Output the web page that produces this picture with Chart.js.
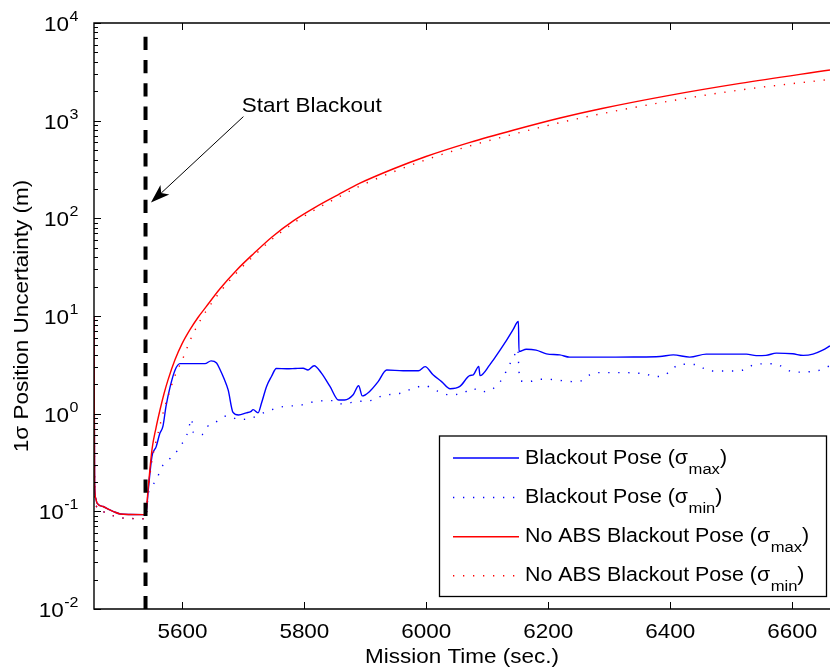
<!DOCTYPE html>
<html>
<head>
<meta charset="utf-8">
<script src="https://cdn.jsdelivr.net/npm/chart.js@4.4.1/dist/chart.umd.min.js"></script>
<style>
  html, body { margin: 0; padding: 0; background: #fff; overflow: hidden; }
  #wrap { position: relative; width: 830px; height: 671px; }
</style>
</head>
<body>
<div id="wrap"><canvas id="c" width="830" height="671"></canvas></div>
<script>
// ---- data: mission time (s) and 1-sigma position uncertainty (m) ----
// Filter estimate before the blackout (identical for both runs)
const preTime  = [5455, 5456, 5458, 5460, 5470, 5480, 5487, 5498, 5515, 5536, 5540];
const preMax   = [10, 0.2, 0.135, 0.121, 0.112, 0.104, 0.0995, 0.094, 0.0928, 0.0925, 0.0925];
const preMin   = [10, 0.17, 0.118, 0.108, 0.0995, 0.093, 0.09, 0.086, 0.0845, 0.084, 0.084];

// Blackout pose, sigma max
const blueMaxTime = [5544, 5550, 5557, 5563, 5568, 5573, 5580, 5588, 5596, 5610, 5625, 5637, 5647, 5656, 5662, 5668, 5675, 5683, 5692, 5705, 5712, 5716, 5724, 5730, 5738, 5746, 5754, 5771, 5785, 5798, 5806, 5816, 5828, 5842, 5856, 5866, 5880, 5889, 5895, 5907, 5921, 5935, 5962, 5987, 5998, 6011, 6025, 6039, 6055, 6071, 6077, 6086, 6088, 6104, 6110, 6132, 6142, 6151, 6152, 6164, 6180, 6197, 6219, 6235, 6306, 6340, 6383, 6405, 6432, 6459, 6525, 6541, 6557, 6574, 6601, 6618, 6634, 6650, 6662];
const blueMaxVal  = [0.166, 0.364, 0.46, 0.63, 0.74, 1.18, 1.9, 2.8, 3.25, 3.25, 3.25, 3.25, 3.47, 3.3, 2.8, 2.3, 1.75, 1.03, 0.97, 1.02, 1.05, 1.1, 1.02, 1.3, 1.9, 2.4, 2.9, 2.88, 2.9, 2.92, 2.8, 3.1, 2.6, 1.9, 1.38, 1.38, 1.56, 1.93, 1.52, 1.69, 2.13, 2.8, 2.75, 2.75, 3.03, 2.5, 2.13, 1.8, 1.9, 2.45, 2.5, 3.05, 2.45, 3.16, 3.56, 5.7, 7.2, 8.77, 4.32, 4.57, 4.47, 4.1, 4.0, 3.79, 3.79, 3.8, 3.85, 4.0, 3.79, 4.07, 4.07, 3.93, 3.95, 4.17, 4.1, 3.95, 4.07, 4.47, 4.94];

// Blackout pose, sigma min
const blueMinTime = [5544, 5550, 5559, 5564, 5580, 5592, 5600, 5607, 5611, 5615, 5618, 5632, 5640, 5651, 5673, 5694, 5713, 5738, 5765, 5793, 5817, 5847, 5861, 5886, 5913, 5927, 5957, 5984, 5999, 6011, 6039, 6060, 6076, 6088, 6101, 6115, 6125, 6132, 6139, 6144, 6150, 6152, 6154, 6169, 6183, 6200, 6216, 6240, 6254, 6268, 6279, 6328, 6345, 6361, 6372, 6386, 6399, 6416, 6446, 6459, 6476, 6509, 6525, 6539, 6572, 6585, 6599, 6615, 6631, 6646, 6662];
const blueMinVal  = [0.15, 0.18, 0.22, 0.27, 0.35, 0.42, 0.5, 0.6, 0.74, 0.89, 0.64, 0.61, 0.73, 0.79, 0.95, 0.87, 0.9, 1.05, 1.18, 1.22, 1.33, 1.36, 1.26, 1.33, 1.38, 1.52, 1.62, 1.87, 1.93, 1.78, 1.56, 1.62, 1.82, 1.68, 1.7, 1.93, 2.3, 2.8, 3.41, 3.9, 4.6, 2.7, 2.17, 2.13, 2.25, 2.25, 2.2, 2.13, 2.17, 2.5, 2.63, 2.63, 2.6, 2.55, 2.4, 2.4, 2.7, 3.21, 3.16, 2.8, 2.73, 2.73, 2.88, 3.21, 3.25, 2.99, 2.7, 2.66, 2.7, 2.8, 3.1];

// No ABS blackout pose (sigma max and sigma min share the time stamps)
const redTime   = [5543.6, 5550.1, 5556.7, 5563.2, 5569.8, 5576.4, 5587.8, 5599.3, 5612.4, 5625.5, 5638.7, 5661.6, 5689.5, 5717.4, 5746.9, 5783, 5819, 5855.1, 5891.2, 5945.3, 5999.4, 6071.6, 6143.7, 6219.2, 6288.1, 6396.3, 6514.4, 6662];
const redMaxVal = [0.166, 0.43, 0.716, 1.09, 1.6, 2.22, 3.56, 5.18, 7.24, 9.65, 12.4, 19.0, 29.8, 43.9, 64.5, 95.2, 131, 174, 229, 320, 430, 600, 803, 1066, 1333, 1806, 2409, 3304];
const redMinVal = [0.16, 0.33, 0.52, 0.76, 1.1, 1.5, 2.45, 3.5, 5.6, 8.2, 11.2, 17.6, 28, 41.5, 61, 90, 124, 164, 214, 298, 398, 552, 730, 955, 1180, 1575, 2060, 2650];

// axes
const xTicks = [5600, 5800, 6000, 6200, 6400, 6600];
const yTickExps = [-2, -1, 0, 1, 2, 3, 4];
const blackoutTime = 5539.5;

// legend and annotation text
const legendNames = ['Blackout Pose', 'Blackout Pose', 'No ABS Blackout Pose', 'No ABS Blackout Pose'];
const legendSubs  = ['max', 'min', 'max', 'min'];
const xTitle = 'Mission Time (sec.)';
const yTitle = '1\u03C3 Position Uncertainty (m)';
const noteText = 'Start Blackout';
const noteTail = { x: 5700, y: 1100 };
const noteTip  = { x: 5548.4, y: 145 };
const noteTextAt = { x: 5697.5, y: 1236 };

// ---- helpers ----
const FONT = "'Liberation Sans', Arial, Helvetica, sans-serif";
const SX = 1.07; // horizontal text stretch

function pts(t, v) { return t.map((ti, i) => ({ x: ti, y: v[i] })); }

function textW(ctx, s, size) {
  ctx.save(); ctx.font = size + 'px ' + FONT;
  const w = ctx.measureText(s).width * SX; ctx.restore(); return w;
}
function drawText(ctx, s, x, y, size, align) {
  ctx.save();
  ctx.font = size + 'px ' + FONT;
  ctx.fillStyle = '#000';
  ctx.textBaseline = 'alphabetic';
  const w = ctx.measureText(s).width * SX;
  let x0 = x;
  if (align === 'center') x0 = x - w / 2;
  else if (align === 'right') x0 = x - w;
  ctx.translate(x0, y); ctx.scale(SX, 1);
  ctx.textAlign = 'left';
  ctx.fillText(s, 0, 0);
  ctx.restore();
  return w;
}

const BLUE = '#0000ff', RED = '#ff0000';
const DOT = [1.3, 8.7];

const datasets = [
  { label: 'Blackout Pose (\u03C3max)', data: pts(preTime.concat(blueMaxTime), preMax.concat(blueMaxVal)),
    borderColor: BLUE, borderWidth: 1.4, order: 4 },
  { label: 'Blackout Pose (\u03C3min)', data: pts(preTime.concat(blueMinTime), preMin.concat(blueMinVal)),
    borderColor: BLUE, borderWidth: 1.4, borderDash: DOT, order: 3 },
  { label: 'No ABS Blackout Pose (\u03C3max)', data: pts(preTime.concat(redTime), preMax.concat(redMaxVal)),
    borderColor: RED, borderWidth: 1.4, order: 1 },
  { label: 'No ABS Blackout Pose (\u03C3min)', data: pts(preTime.concat(redTime), preMin.concat(redMinVal)),
    borderColor: RED, borderWidth: 1.4, borderDash: DOT, order: 2 }
];
datasets.forEach(d => {
  d.pointRadius = 0; d.fill = false; d.cubicInterpolationMode = 'monotone';
  d.borderJoinStyle = 'round'; d.borderCapStyle = 'butt';
});

// blackout marker and annotation, drawn over the curves
const markerPlugin = {
  id: 'blackoutMarker',
  afterDatasetsDraw(chart) {
    const { ctx, chartArea: a, scales: { x, y } } = chart;
    ctx.save();
    // dashed vertical line
    const bx = x.getPixelForValue(blackoutTime);
    ctx.strokeStyle = '#000'; ctx.lineWidth = 4; ctx.lineCap = 'butt';
    ctx.setLineDash([13.3, 10]);
    ctx.beginPath(); ctx.moveTo(bx, a.top + 13.7); ctx.lineTo(bx, a.bottom); ctx.stroke();
    ctx.setLineDash([]);
    // arrow
    const tx = x.getPixelForValue(noteTail.x), ty = y.getPixelForValue(noteTail.y);
    const px = x.getPixelForValue(noteTip.x), py = y.getPixelForValue(noteTip.y);
    const dx = px - tx, dy = py - ty, len = Math.hypot(dx, dy);
    const ux = dx / len, uy = dy / len, nx = -uy, ny = ux;
    const headL = 19, headW = 6.5, notch = 14;
    ctx.lineWidth = 1; ctx.strokeStyle = '#000'; ctx.fillStyle = '#000';
    ctx.beginPath(); ctx.moveTo(tx, ty); ctx.lineTo(px - ux * notch, py - uy * notch); ctx.stroke();
    ctx.beginPath();
    ctx.moveTo(px, py);
    ctx.lineTo(px - ux * headL + nx * headW, py - uy * headL + ny * headW);
    ctx.lineTo(px - ux * notch, py - uy * notch);
    ctx.lineTo(px - ux * headL - nx * headW, py - uy * headL - ny * headW);
    ctx.closePath(); ctx.fill();
    drawText(ctx, noteText, x.getPixelForValue(noteTextAt.x), y.getPixelForValue(noteTextAt.y), 21, 'left');
    ctx.restore();
  }
};

// box axes with inward ticks, tick labels, titles and legend
const axesPlugin = {
  id: 'boxAxes',
  afterDraw(chart) {
    const { ctx, chartArea: a, scales: { x, y } } = chart;
    ctx.save();
    ctx.strokeStyle = '#000'; ctx.lineWidth = 1.4; ctx.lineCap = 'square';
    ctx.beginPath();
    ctx.moveTo(a.right + 2, a.top); ctx.lineTo(a.left, a.top);
    ctx.lineTo(a.left, a.bottom); ctx.lineTo(a.right + 2, a.bottom);
    ctx.stroke();
    ctx.lineWidth = 1; ctx.lineCap = 'butt';
    // x ticks (bottom and top)
    ctx.beginPath();
    xTicks.forEach(v => {
      const px = Math.round(x.getPixelForValue(v)) + 0.5;
      ctx.moveTo(px, a.bottom); ctx.lineTo(px, a.bottom - 7);
      ctx.moveTo(px, a.top); ctx.lineTo(px, a.top + 7);
    });
    // y ticks, major and minor
    yTickExps.forEach(k => {
      const py = Math.round(y.getPixelForValue(Math.pow(10, k))) + 0.5;
      ctx.moveTo(a.left, py); ctx.lineTo(a.left + 7, py);
      if (k < yTickExps[yTickExps.length - 1]) {
        for (let m = 2; m <= 9; m++) {
          const pm = Math.round(y.getPixelForValue(m * Math.pow(10, k))) + 0.5;
          ctx.moveTo(a.left, pm); ctx.lineTo(a.left + 4, pm);
        }
      }
    });
    ctx.stroke();

    // x tick labels
    xTicks.forEach(v => drawText(ctx, String(v), x.getPixelForValue(v), a.bottom + 28.5, 21, 'center'));
    // y tick labels: 10 with superscript exponent, right aligned
    yTickExps.forEach(k => {
      const py = y.getPixelForValue(Math.pow(10, k));
      const e = String(k);
      const we = textW(ctx, e, 15), wb = textW(ctx, '10', 21);
      const right = 78.5;
      const bx0 = right - we - wb - 0.5;
      drawText(ctx, '10', bx0, py + 8, 21, 'left');
      drawText(ctx, e, bx0 + wb + 0.5, py - 2, 15, 'left');
    });
    // axis titles
    drawText(ctx, xTitle, (a.left + a.right) / 2, 663, 21, 'center');
    ctx.save();
    ctx.translate(28, (a.top + a.bottom) / 2);
    ctx.rotate(-Math.PI / 2);
    drawText(ctx, yTitle, 0, 0, 21, 'center');
    ctx.restore();

    // legend
    const L = 439.5, T = 436, R = 826.5, B = 596.5;
    ctx.fillStyle = '#fff'; ctx.fillRect(L, T, R - L, B - T);
    ctx.strokeStyle = '#000'; ctx.lineWidth = 1.3;
    ctx.strokeRect(L, T, R - L, B - T);
    const rows = [458, 497.5, 536.7, 575.8];
    datasets.forEach((d, i) => {
      const ry = rows[i];
      ctx.save();
      ctx.strokeStyle = d.borderColor; ctx.lineWidth = 1.4;
      ctx.setLineDash(d.borderDash || []);
      ctx.lineCap = 'butt';
      ctx.beginPath(); ctx.moveTo(453, ry); ctx.lineTo(519, ry); ctx.stroke();
      ctx.restore();
      let tx = 525;
      tx += drawText(ctx, legendNames[i] + ' (\u03C3', tx, ry + 5.5, 20, 'left');
      tx += drawText(ctx, legendSubs[i], tx + 0.5, ry + 15.5, 15.5, 'left') + 0.5;
      drawText(ctx, ')', tx, ry + 5.5, 20, 'left');
    });
    ctx.restore();
  }
};

new Chart(document.getElementById('c').getContext('2d'), {
  type: 'line',
  data: { datasets },
  options: {
    responsive: false,
    animation: false,
    events: [],
    layout: { padding: { left: 0, right: 0, top: 23, bottom: 0 } },
    plugins: { legend: { display: false }, tooltip: { enabled: false } },
    scales: {
      x: {
        type: 'linear', min: 5455, max: 6662,
        grid: { display: false }, border: { display: false },
        ticks: { display: false },
        afterFit(s) { s.height = 62; }
      },
      y: {
        type: 'logarithmic', min: 0.01, max: 10000,
        grid: { display: false }, border: { display: false },
        ticks: { display: false },
        afterFit(s) { s.width = 94; }
      }
    }
  },
  plugins: [markerPlugin, axesPlugin]
});
</script>
</body>
</html>
